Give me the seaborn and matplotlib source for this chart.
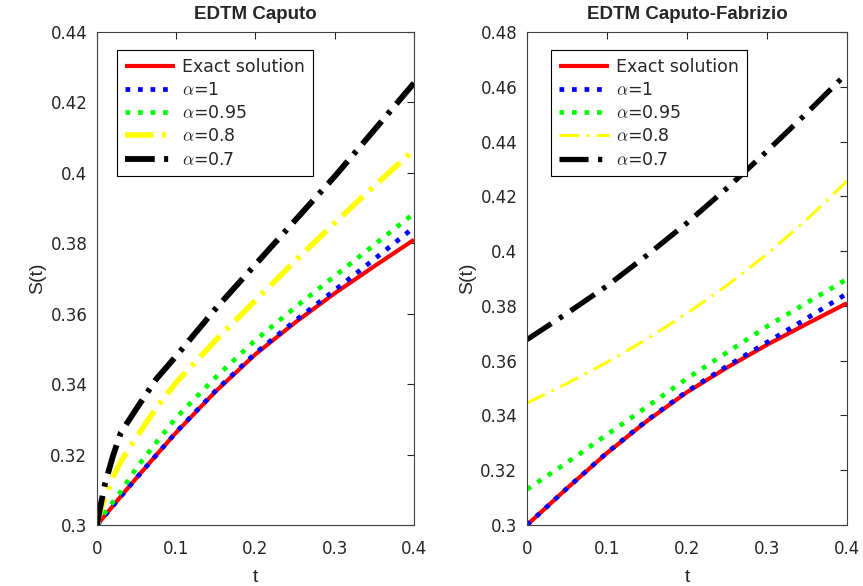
import numpy as np
import pandas as pd
import matplotlib
matplotlib.use("Agg")
import matplotlib.pyplot as plt
from matplotlib.ticker import FuncFormatter
import seaborn as sns

# Caputo panel
t_cap = [0, 0.003, 0.01, 0.02, 0.03, 0.05, 0.075, 0.1, 0.15, 0.2, 0.25, 0.3, 0.35, 0.4]
exact_cap = [0.3, 0.3008, 0.3027, 0.3054, 0.3081, 0.3134, 0.3199, 0.3263, 0.3380, 0.3485, 0.3575, 0.3658, 0.3735, 0.3810]
a100_cap = [0.3, 0.3008, 0.3027, 0.3054, 0.3081, 0.3134, 0.3199, 0.3264, 0.3382, 0.3488, 0.3580, 0.3667, 0.3755, 0.3845]
a095_cap = [0.3, 0.3012, 0.3035, 0.3065, 0.3095, 0.3163, 0.3235, 0.3305, 0.3420, 0.3525, 0.3618, 0.3707, 0.3796, 0.3885]
a080_cap = [0.3, 0.3032, 0.3077, 0.3135, 0.3180, 0.3250, 0.3333, 0.3405, 0.3525, 0.3638, 0.3750, 0.3858, 0.3963, 0.4065]
a070_cap = [0.3, 0.3038, 0.3116, 0.3195, 0.3262, 0.3331, 0.3415, 0.3480, 0.3615, 0.3740, 0.3865, 0.3990, 0.4122, 0.4255]

# Caputo-Fabrizio panel
t_cf = [0, 0.05, 0.1, 0.15, 0.2, 0.25, 0.3, 0.35, 0.4]
exact_cf = [0.3, 0.3134, 0.3263, 0.3380, 0.3485, 0.3575, 0.3658, 0.3735, 0.3810]
a100_cf = [0.3, 0.3134, 0.3264, 0.3382, 0.3488, 0.3580, 0.3667, 0.3755, 0.3845]
a095_cf = [0.313, 0.3228, 0.3330, 0.3432, 0.3535, 0.3630, 0.3725, 0.3812, 0.3898]
a080_cf = [0.3445, 0.3517, 0.3594, 0.3679, 0.3773, 0.3875, 0.3989, 0.4116, 0.4256]
a070_cf = [0.3677, 0.3773, 0.3873, 0.3985, 0.4103, 0.4230, 0.4365, 0.4505, 0.4650]

labels = ['Exact solution', r'$\alpha$=1', r'$\alpha$=0.95', r'$\alpha$=0.8', r'$\alpha$=0.7']
colors = ['#ff0000', '#0000ff', '#00ff00', '#ffff00', '#000000']

sns.set_theme(style='white')
plt.rcParams['font.family'] = ['DejaVu Sans']
plt.rcParams['mathtext.fontset'] = 'cm'

fig = plt.figure(figsize=(8.63, 5.86), dpi=100, facecolor='white')
ax1 = fig.add_axes([0.1124, 0.1041, 0.3673, 0.8413])
ax2 = fig.add_axes([0.6107, 0.1041, 0.3708, 0.8413])

dd_cap = (0, (5.1, 1.6, 0.7, 1.6))
dd_cf_y = (0, (6.5, 2.4, 0.9, 2.4))
dd_cf_k = (0, (5.5, 1.8, 0.8, 1.8))
styles_cap = [('-', 3.0), (':', 3.4), (':', 3.4), (dd_cap, 4.0), (dd_cap, 4.2)]
styles_cf = [('-', 3.0), (':', 3.4), (':', 3.4), (dd_cf_y, 2.2), (dd_cf_k, 3.8)]

def draw(ax, t, series, styles, title, ylim, yticks, anchor):
    for vals, lab, col, (ls, lw) in zip(series, labels, colors, styles):
        df = pd.DataFrame({'t': t, 'S': vals})
        sns.lineplot(data=df, x='t', y='S', ax=ax, color=col, lw=lw, linestyle=ls,
                     label=lab, dash_capstyle='butt', solid_capstyle='butt')
    ax.set_xlim(0, 0.4)
    ax.set_ylim(*ylim)
    ax.set_xticks([0, 0.1, 0.2, 0.3, 0.4])
    ax.set_yticks(yticks)
    fmt = FuncFormatter(lambda v, p: '%g' % round(v, 4))
    ax.xaxis.set_major_formatter(fmt)
    ax.yaxis.set_major_formatter(fmt)
    ax.tick_params(direction='in', length=5, width=0.8, top=True, right=True,
                   labelsize=12, colors='#262626')
    ax.tick_params(axis='x', pad=11)
    ax.tick_params(axis='y', pad=7)
    for s in ax.spines.values():
        s.set_color('#404040')
        s.set_linewidth(0.8)
    ax.set_title(title, fontsize=13.5, fontweight='bold', pad=9,
                 family=['Liberation Sans', 'DejaVu Sans'])
    ax.set_xlabel('t', fontsize=14, labelpad=8, family=['Liberation Sans', 'DejaVu Sans'])
    ax.set_ylabel('S(t)', fontsize=14, labelpad=3, family=['Liberation Sans', 'DejaVu Sans'])
    leg = ax.legend(loc='upper left', bbox_to_anchor=anchor, borderaxespad=0,
                    frameon=True, fancybox=False, edgecolor='black', framealpha=1,
                    handlelength=2.9, fontsize=12.5, labelspacing=0.3,
                    borderpad=0.45, handletextpad=0.4)
    leg.get_frame().set_linewidth(0.8)

draw(ax1, t_cap, [exact_cap, a100_cap, a095_cap, a080_cap, a070_cap], styles_cap,
     'EDTM Caputo', (0.3, 0.44), np.arange(0.30, 0.441, 0.02), (0.063, 0.9635))
draw(ax2, t_cf, [exact_cf, a100_cf, a095_cf, a080_cf, a070_cf], styles_cf,
     'EDTM Caputo-Fabrizio', (0.3, 0.48), np.arange(0.30, 0.481, 0.02), (0.075, 0.9635))

fig.savefig('out.png', dpi=100)
